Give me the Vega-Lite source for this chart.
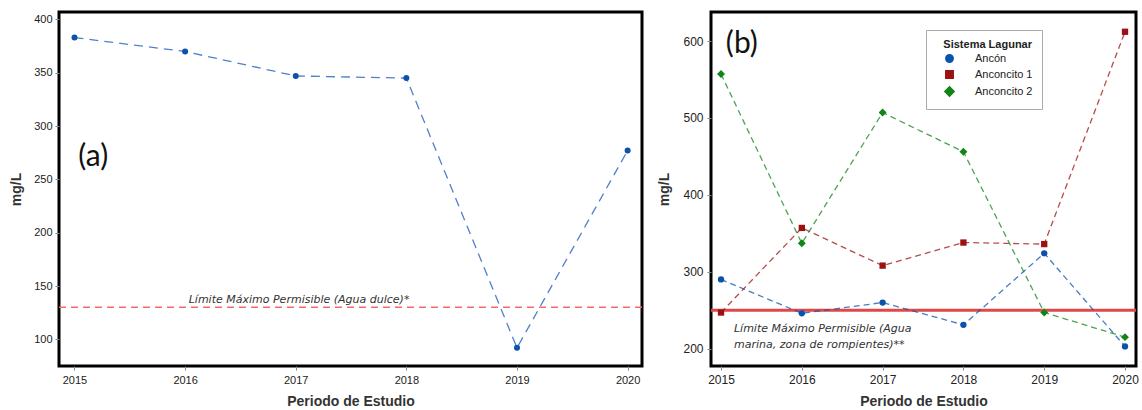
{
  "$schema": "https://vega.github.io/schema/vega-lite/v6.json",
  "padding": {"left": 8, "top": 10, "right": 4, "bottom": 0},
  "autosize": {"type": "pad"},
  "background": "white",
  "config": {
    "view": {"stroke": "black", "strokeWidth": 3},
    "font": "Liberation Sans",
    "axis": {"grid": false, "domain": false, "tickColor": "#888", "tickSize": 4, "labelColor": "#222", "labelFont": "Liberation Sans", "titleFont": "Liberation Sans", "titleFontWeight": "bold", "titleFontSize": 14, "titleColor": "#333"},
    "legend": {"orient": "none", "legendX": 215, "legendY": 18, "padding": 9, "strokeColor": "#aaa", "fillColor": "white", "titleFont": "Liberation Sans", "titleFontSize": 11, "titleFontWeight": "bold", "titleColor": "#222", "titleAnchor": "end", "titlePadding": 3, "labelFont": "Liberation Sans", "labelFontSize": 11, "labelColor": "#222", "labelOffset": 20, "symbolOffset": 9, "symbolSize": 55, "symbolOpacity": 1, "rowPadding": 1}
  },
  "datasets": {
    "a": [
      {"year": 2015, "value": 383},
      {"year": 2016, "value": 370},
      {"year": 2017, "value": 347},
      {"year": 2018, "value": 345},
      {"year": 2019, "value": 92},
      {"year": 2020, "value": 277}
    ],
    "b": [
      {"year": 2015, "value": 290, "sistema": "Ancón"},
      {"year": 2016, "value": 246, "sistema": "Ancón"},
      {"year": 2017, "value": 260, "sistema": "Ancón"},
      {"year": 2018, "value": 231, "sistema": "Ancón"},
      {"year": 2019, "value": 324, "sistema": "Ancón"},
      {"year": 2020, "value": 203, "sistema": "Ancón"},
      {"year": 2015, "value": 247, "sistema": "Anconcito 1"},
      {"year": 2016, "value": 357, "sistema": "Anconcito 1"},
      {"year": 2017, "value": 308, "sistema": "Anconcito 1"},
      {"year": 2018, "value": 338, "sistema": "Anconcito 1"},
      {"year": 2019, "value": 336, "sistema": "Anconcito 1"},
      {"year": 2020, "value": 612, "sistema": "Anconcito 1"},
      {"year": 2015, "value": 557, "sistema": "Anconcito 2"},
      {"year": 2016, "value": 337, "sistema": "Anconcito 2"},
      {"year": 2017, "value": 507, "sistema": "Anconcito 2"},
      {"year": 2018, "value": 456, "sistema": "Anconcito 2"},
      {"year": 2019, "value": 247, "sistema": "Anconcito 2"},
      {"year": 2020, "value": 215, "sistema": "Anconcito 2"}
    ]
  },
  "resolve": {"scale": {"color": "independent", "shape": "independent"}},
  "hconcat": [
    {
      "width": 583,
      "height": 354,
      "encoding": {
        "x": {"field": "year", "type": "quantitative", "scale": {"domain": [2014.86, 2020.13], "nice": false, "zero": false}, "axis": {"values": [2015, 2016, 2017, 2018, 2019, 2020], "format": "d", "labelFontSize": 11, "labelPadding": 4, "title": "Periodo de Estudio", "titlePadding": 9}},
        "y": {"field": "value", "type": "quantitative", "scale": {"domain": [75, 407], "nice": false, "zero": false}, "axis": {"values": [100, 150, 200, 250, 300, 350, 400], "labelFontSize": 11, "labelPadding": 3, "title": "mg/L", "titlePadding": 10}}
      },
      "layer": [
        {
          "data": {"values": [{"limit": 130}]},
          "mark": {"type": "rule", "color": "#f26a6a", "strokeWidth": 1.5, "strokeDash": [7, 5]},
          "encoding": {"x": null, "y": {"field": "limit", "type": "quantitative"}}
        },
        {
          "data": {"name": "a"},
          "mark": {"type": "line", "color": "#4f80cc", "strokeWidth": 1.3, "strokeDash": [9, 6]}
        },
        {
          "data": {"name": "a"},
          "mark": {"type": "point", "filled": true, "shape": "circle", "size": 36, "color": "#0b52ad", "opacity": 1}
        },
        {
          "data": {"values": [{"year": 2017.03, "value": 132, "label": "Límite Máximo Permisible (Agua dulce)*"}]},
          "mark": {"type": "text", "font": "DejaVu Sans", "fontStyle": "italic", "fontSize": 11, "color": "#333", "align": "center", "baseline": "bottom"},
          "encoding": {"text": {"field": "label"}}
        },
        {
          "data": {"values": [{"year": 2015.035, "value": 271, "label": "(a)"}]},
          "mark": {"type": "text", "font": "Lato", "fontSize": 30, "color": "#111", "align": "left", "baseline": "middle"},
          "encoding": {"text": {"field": "label"}}
        }
      ]
    },
    {
      "width": 425,
      "height": 354,
      "encoding": {
        "x": {"field": "year", "type": "quantitative", "scale": {"domain": [2014.876, 2020.136], "nice": false, "zero": false}, "axis": {"values": [2015, 2016, 2017, 2018, 2019, 2020], "format": "d", "labelFontSize": 12, "labelPadding": 4, "title": "Periodo de Estudio", "titlePadding": 9}},
        "y": {"field": "value", "type": "quantitative", "scale": {"domain": [177.5, 637.7], "nice": false, "zero": false}, "axis": {"values": [200, 300, 400, 500, 600], "labelFontSize": 12, "labelPadding": 4, "title": "mg/L", "titlePadding": 11}}
      },
      "layer": [
        {
          "data": {"values": [{"limit": 250}]},
          "mark": {"type": "rule", "color": "#e04848", "strokeWidth": 3},
          "encoding": {"x": null, "y": {"field": "limit", "type": "quantitative"}}
        },
        {
          "data": {"name": "b"},
          "mark": {"type": "line", "strokeWidth": 1.3, "strokeDash": [6, 4], "opacity": 0.75},
          "encoding": {
            "color": {"field": "sistema", "type": "nominal", "title": "Sistema Lagunar"}
          }
        },
        {
          "data": {"name": "b"},
          "mark": {"type": "point", "filled": true, "size": 40, "opacity": 1},
          "encoding": {
            "color": {"field": "sistema", "type": "nominal", "scale": {"domain": ["Ancón", "Anconcito 1", "Anconcito 2"], "range": ["#0b52ad", "#9c1212", "#118418"]}, "title": "Sistema Lagunar"},
            "shape": {"field": "sistema", "type": "nominal", "scale": {"domain": ["Ancón", "Anconcito 1", "Anconcito 2"], "range": ["circle", "square", "M0,-1.25L1.25,0L0,1.25L-1.25,0Z"]}, "title": "Sistema Lagunar"}
          }
        },
        {
          "data": {"values": [{"year": 2015.16, "value": 234, "label": ["Límite Máximo Permisible (Agua", "marina, zona de rompientes)**"]}]},
          "mark": {"type": "text", "font": "DejaVu Sans", "fontStyle": "italic", "fontSize": 11, "color": "#333", "align": "left", "baseline": "top", "lineHeight": 16},
          "encoding": {"text": {"field": "label"}}
        },
        {
          "data": {"values": [{"year": 2015.06, "value": 596, "label": "(b)"}]},
          "mark": {"type": "text", "font": "Lato", "fontSize": 30, "color": "#111", "align": "left", "baseline": "middle"},
          "encoding": {"text": {"field": "label"}}
        }
      ]
    }
  ],
  "spacing": 69,
  "bounds": "flush"
}
